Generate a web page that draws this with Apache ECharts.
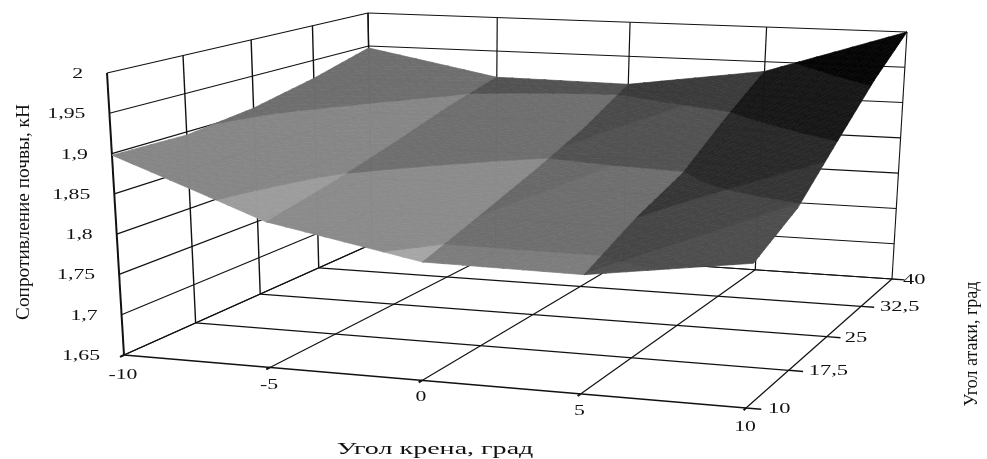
<!DOCTYPE html>
<html>
<head>
<meta charset="utf-8">
<style>html,body{margin:0;padding:0;background:#fff}#c{width:987px;height:459px;filter:blur(0.45px)}</style>
<script src="https://cdn.jsdelivr.net/npm/echarts@6/dist/echarts.min.js"></script>
</head>
<body>
<div id="c"></div>
<script>
// ---------- data ----------
var rollAngles = [-10, -5, 0, 5, 10];
var attackAngles = [10, 17.5, 25, 32.5, 40];
var attackLabels = ['10', '17,5', '25', '32,5', '40'];
var resistanceTicks = [1.65, 1.7, 1.75, 1.8, 1.85, 1.9, 1.95, 2];
var resistanceLabels = ['1,65', '1,7', '1,75', '1,8', '1,85', '1,9', '1,95', '2'];
var resistanceAt10 = [1.898, 1.827, 1.791, 1.789, 1.815];
var resistanceAt175 = [1.896, 1.845, 1.816, 1.823, 1.846];
var resistanceAt25 = [1.906, 1.867, 1.842, 1.849, 1.901];
var resistanceAt325 = [1.924, 1.891, 1.871, 1.895, 1.955];
var resistanceAt40 = [1.947, 1.911, 1.909, 1.936, 2.000];
var resistance = [resistanceAt10, resistanceAt175, resistanceAt25, resistanceAt325, resistanceAt40];
var bandEdges = [1.65, 1.8, 1.85, 1.9, 1.95, 2.01];
// shade per band (low to high), each with steps of the faint secondary facet shading (low to high)
var col1Shades = [['#a8a8a8'], ['#9c9c9c'], ['#868686'], ['#6e6e6e'], ['#606060']];
var col2Shades = [['#a6a6a6'], ['#8b8b8b'], ['#6f6f6f'], ['#525252'], ['#404040']];
var col3Shades = [['#7d7d7d','#7d7d7d','#7d7d7d'], ['#6e6e6e','#686868','#606060'], ['#525252','#525252','#4a4a4a'], ['#3b3b3b','#3b3b3b','#3b3b3b'], ['#2c2c2c','#2c2c2c','#2c2c2c']];
var col4Shades = [['#525252','#4a4a4a','#3e3e3e'], ['#4e4e4e','#464646','#363636'], ['#353535','#353535','#292929'], ['#171717','#171717','#171717'], ['#050505','#050505','#050505']];
var shades = [col1Shades, col2Shades, col3Shades, col4Shades];
var facetTilt = [0, 0, 0.07, 0.06];
var facetEdges = [[], [], [1.815, 1.858], [1.79, 1.823]];

// ---------- view of the 3D box (page-pixel corners of the floor and roof) ----------
var floorCorners = [[124, 355], [746, 408], [892, 279], [372, 244]];
var roofCorners = [[107, 73], [762, 101], [907, 32], [368, 13]];

function homography(q) {
  var x0=q[0][0],y0=q[0][1],x1=q[1][0],y1=q[1][1],x2=q[2][0],y2=q[2][1],x3=q[3][0],y3=q[3][1];
  var dx1=x1-x2,dx2=x3-x2,sx=x0-x1+x2-x3,dy1=y1-y2,dy2=y3-y2,sy=y0-y1+y2-y3;
  var d=dx1*dy2-dx2*dy1;
  var g=(sx*dy2-dx2*sy)/d,h=(dx1*sy-sx*dy1)/d;
  var a=x1-x0+g*x1,b=x3-x0+h*x3,c=y1-y0+g*y1,e=y3-y0+h*y3;
  return function(u,v){var w=g*u+h*v+1;return [(a*u+b*v+x0)/w,(c*u+e*v+y0)/w];};
}
var floorH = homography(floorCorners), roofH = homography(roofCorners);
var zMin = resistanceTicks[0], zMax = resistanceTicks[resistanceTicks.length-1];
function project(roll, attack, z) {
  var u=(roll-rollAngles[0])/(rollAngles[4]-rollAngles[0]);
  var v=(attack-attackAngles[0])/(attackAngles[4]-attackAngles[0]);
  var f=floorH(u,v), r=roofH(u,v), t=(z-zMin)/(zMax-zMin);
  return [f[0]+(r[0]-f[0])*t, f[1]+(r[1]-f[1])*t];
}

// ---------- band clipping ----------
function clipOn(poly, k, lo, hi) {
  function pass(p, keep, edge) {
    var out=[];
    for (var i=0;i<p.length;i++){
      var a=p[i], b=p[(i+1)%p.length], ka=keep(a[k]), kb=keep(b[k]);
      if (ka) out.push(a);
      if (ka!==kb){
        var t=(edge-a[k])/(b[k]-a[k]);
        out.push(a.map(function(v,m){return v+(b[m]-v)*t;}));
      }
    }
    return out;
  }
  var r=pass(poly,function(z){return z>=lo;},lo);
  if(!r.length) return r;
  return pass(r,function(z){return z<=hi;},hi);
}
function surfaceZ(c,r,s,t){
  return (resistance[r][c]*(1-s)+resistance[r][c+1]*s)*(1-t)+(resistance[r+1][c]*(1-s)+resistance[r+1][c+1]*s)*t;
}

// ---------- series data ----------
var lineData = [];
function seg(a,b,w){ lineData.push([a[0],a[1],a[2],b[0],b[1],b[2],w]); }
var xF=rollAngles[0], xL=rollAngles[4], aF=attackAngles[0], aL=attackAngles[4];
attackAngles.forEach(function(a,i){
  seg([xF,a,zMin],[xL,a,zMin],i===0?1.6:1.2);
  seg([xF,a,zMin],[xF,a,zMax],i===0?2:1.4);
});
rollAngles.forEach(function(x,i){
  seg([x,aF,zMin],[x,aL,zMin],1.2);
  seg([x,aL,zMin],[x,aL,zMax],i===4?1.1:1.2);
});
resistanceTicks.forEach(function(z){
  seg([xF,aF,z],[xF,aL,z],1.2);
  seg([xF,aL,z],[xL,aL,z],1.1);
});
rollAngles.forEach(function(x){ seg([x,aF,zMin],[x,aF-0.4,zMin],2); });
attackAngles.forEach(function(a){ seg([xL,a,zMin],[xL+0.45,a,zMin],1.4); });

var cellData = [];
for (var r=attackAngles.length-2;r>=0;r--) for (var c=0;c<rollAngles.length-1;c++) cellData.push([c,r]);

var SERIF='"Liberation Serif","DejaVu Serif",serif';
var labelData = [];
var attackLabelGaps = [22, 20, 18, 19, 11];
var rollLabelDrops = [20, 18, 17, 17, 19];
resistanceTicks.forEach(function(z,i){ var p=project(xF,aF,z); labelData.push([p[0]-24,p[1]+1,resistanceLabels[i],'right',15,1.45,0]); });
rollAngles.forEach(function(x,i){ var p=project(x,aF,zMin); labelData.push([p[0]-1,p[1]+rollLabelDrops[i],String(x),'center',15,1.45,0]); });
attackAngles.forEach(function(a,i){ var p=project(xL,a,zMin); labelData.push([p[0]+attackLabelGaps[i],p[1]+1,attackLabels[i],'left',15,1.5,0]); });
labelData.push([435,450,'Угол крена, град','center',17,1.65,0]);
labelData.push([24,212,'Сопротивление почвы, кН','center',19.3,1,90]);
labelData.push([972,344,'Угол атаки, град','center',18,1,90]);

var chart = echarts.init(document.getElementById('c'), null, {renderer:'canvas'});
chart.setOption({
  animation:false,
  backgroundColor:'#ffffff',
  grid:{left:0,right:0,top:0,bottom:0},
  xAxis:{type:'value',min:0,max:987,show:false},
  yAxis:{type:'value',min:0,max:459,inverse:true,show:false},
  series:[
    {type:'custom',coordinateSystem:'cartesian2d',silent:true,clip:false,data:lineData,
     renderItem:function(p,api){
       var a=project(api.value(0),api.value(1),api.value(2)),b=project(api.value(3),api.value(4),api.value(5));
       var s=api.coord(a),e=api.coord(b);
       return {type:'line',shape:{x1:s[0],y1:s[1],x2:e[0],y2:e[1]},style:{stroke:'#111',lineWidth:api.value(6),fill:null}};
     }},
    {type:'custom',coordinateSystem:'cartesian2d',silent:true,clip:false,data:cellData,z:3,
     renderItem:function(p,api){
       var c=api.value(0),r=api.value(1),n=8,kids=[];
       var x0=rollAngles[c],x1=rollAngles[c+1],a0=attackAngles[r],a1=attackAngles[r+1];
       var fe=[-9].concat(facetEdges[c]).concat([9]);
       function vert(i,j){
         var s=i/n,t=j/n,z=surfaceZ(c,r,s,t),q=api.coord(project(x0+(x1-x0)*s,a0+(a1-a0)*t,z));
         return [q[0],q[1],z,z-facetTilt[c]*s];
       }
       for(var i=0;i<n;i++)for(var j=0;j<n;j++){
         var A=vert(i,j),B=vert(i+1,j),C=vert(i+1,j+1),D=vert(i,j+1);
         [[A,B,C],[A,C,D]].forEach(function(tri){
           for(var b=0;b<bandEdges.length-1;b++){
             var poly=clipOn(tri,2,bandEdges[b],bandEdges[b+1]);
             if(poly.length<3) continue;
             for(var k=0;k<fe.length-1;k++){
               var pf=clipOn(poly,3,fe[k],fe[k+1]);
               if(pf.length<3) continue;
               var col=shades[c][b][k];
               kids.push({type:'polygon',shape:{points:pf.map(function(v){return [v[0],v[1]];})},
                 style:{fill:col,stroke:col,lineWidth:0.7}});
             }
           }
         });
       }
       return {type:'group',children:kids};
     }},
    {type:'custom',coordinateSystem:'cartesian2d',silent:true,clip:false,data:labelData,z:4,
     encode:{x:0,y:1},
     renderItem:function(p,api){
       var d=labelData[p.dataIndex],q=api.coord([d[0],d[1]]);
       return {type:'text',x:q[0],y:q[1],scaleX:d[5],rotation:d[6]*Math.PI/180,
         style:{text:d[2],fill:'#111',font:d[4]+'px '+SERIF,textAlign:d[3],textVerticalAlign:'middle'}};
     }}
  ]
});
</script>
</body>
</html>
